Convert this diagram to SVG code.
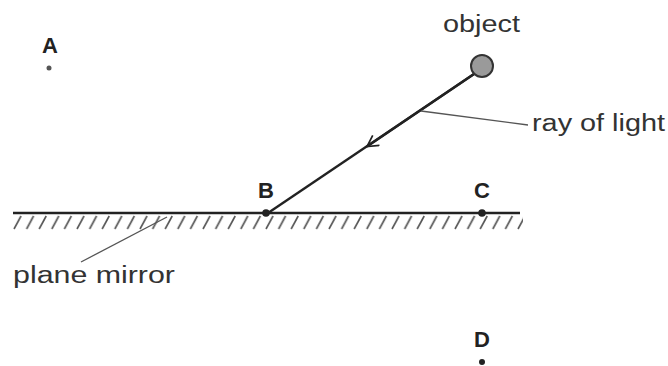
<svg xmlns="http://www.w3.org/2000/svg" width="668" height="366" viewBox="0 0 668 366">
<style>
.t{font-family:"Liberation Sans",Arial,sans-serif;font-size:23px;fill:#333}
.lb{font-family:"Liberation Sans",Arial,sans-serif;font-size:22px;font-weight:bold;fill:#222;text-anchor:middle}
.ln{stroke:#222;stroke-width:2.4;fill:none}
.ld{stroke:#555;stroke-width:1.3;fill:none}
.h{stroke:#555;stroke-width:1.6}
.dot{fill:#222}
</style>
<defs>
<marker id="arr" viewBox="0 0 14 14" refX="12" refY="7" markerWidth="14" markerHeight="14" markerUnits="userSpaceOnUse" orient="auto">
<path d="M1,1 L12,7 L1,13" fill="none" stroke="#222" stroke-width="1.7"/>
</marker>
<pattern id="hatch" x="13" y="215" width="12.6" height="15" patternUnits="userSpaceOnUse">
<line x1="1" y1="14" x2="8" y2="1" class="h"/>
</pattern>
</defs>
<rect width="668" height="366" fill="#fff"/>
<g id="mirror">
<line x1="13" y1="213" x2="520" y2="213" class="ln"/>
<rect x="13" y="215" width="510" height="15" fill="url(#hatch)"/>
</g>
<g id="connectors">
<line x1="474" y1="74" x2="268" y2="213" class="ln"/>
<line x1="474" y1="74" x2="367" y2="146.5" class="ln" marker-end="url(#arr)"/>
<line x1="421" y1="111" x2="528" y2="125" class="ld"/>
<line x1="81" y1="262" x2="167" y2="217" class="ld"/>
</g>
<g id="object">
<circle cx="482" cy="66" r="11" fill="#9a9a9a" stroke="#333" stroke-width="2"/>
<text x="443" y="32" class="t" textLength="77" lengthAdjust="spacingAndGlyphs">object</text>
</g>
<g id="ray-label"><text x="532" y="131" class="t" textLength="133" lengthAdjust="spacingAndGlyphs">ray of light</text></g>
<g id="plane-mirror-label"><text x="13" y="283" class="t" textLength="162" lengthAdjust="spacingAndGlyphs">plane mirror</text></g>
<g id="A"><text x="50" y="53" class="lb">A</text><circle cx="49" cy="68" r="2.5" fill="#555"/></g>
<g id="B"><text x="266" y="198" class="lb">B</text><circle cx="266" cy="213" r="3.8" class="dot"/></g>
<g id="C"><text x="482" y="198" class="lb">C</text><circle cx="482" cy="213" r="3.8" class="dot"/></g>
<g id="D"><text x="482" y="347" class="lb">D</text><circle cx="482" cy="362" r="3" class="dot"/></g>
</svg>
